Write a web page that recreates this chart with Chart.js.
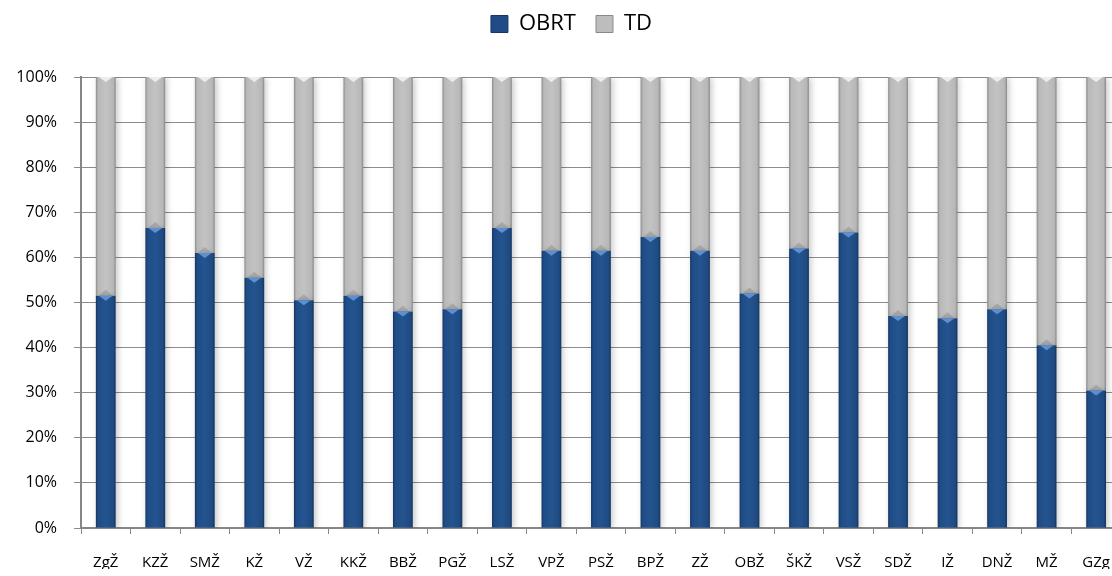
<!DOCTYPE html>
<html>
<head>
<meta charset="utf-8">
<title>OBRT / TD</title>
<script src="https://cdn.jsdelivr.net/npm/chart.js@4"></script>
<style>
  html, body { margin: 0; padding: 0; background: #fff; overflow: hidden; }
  #wrap { width: 1130px; height: 576px; }
</style>
</head>
<body>
<div id="wrap"><canvas id="chart" width="1130" height="576"></canvas></div>
<script>
// podatki, odčitani s slike (delež v %)
const categories = ['ZgŽ', 'KZŽ', 'SMŽ', 'KŽ', 'VŽ', 'KKŽ', 'BBŽ', 'PGŽ', 'LSŽ', 'VPŽ', 'PSŽ',
                    'BPŽ', 'ZŽ', 'OBŽ', 'ŠKŽ', 'VSŽ', 'SDŽ', 'IŽ', 'DNŽ', 'MŽ', 'GZg'];
const obrt = [51.5, 66.5, 61, 55.5, 50.5, 51.5, 48, 48.5, 66.5, 61.5, 61.5,
              64.5, 61.5, 52, 62, 65.5, 47, 46.5, 48.5, 40.5, 30.5];
const td   = [48.5, 33.5, 39, 44.5, 49.5, 48.5, 52, 51.5, 33.5, 38.5, 38.5,
              35.5, 38.5, 48, 38, 34.5, 53, 53.5, 51.5, 59.5, 69.5];
const seriesNames = ['OBRT', 'TD'];
const yTickStep = 10;

const FONT = '"Open Sans", "Noto Sans", sans-serif';

// vodoravni preliv čez posamezen stolpec (rob temnejši, sredina svetlejša)
function barGradient(ctx, stops) {
  const chart = ctx.chart;
  if (!chart.chartArea || ctx.type !== 'data') return stops[2];
  const meta = chart.getDatasetMeta(ctx.datasetIndex);
  const el = meta.data[ctx.dataIndex];
  const cx = chart.scales.x.getPixelForValue(ctx.dataIndex);
  const w = (el && el.width) ? el.width : 20;
  const g = chart.ctx.createLinearGradient(cx - w / 2, 0, cx + w / 2, 0);
  g.addColorStop(0, stops[0]);
  g.addColorStop(0.12, stops[1]);
  g.addColorStop(0.5, stops[2]);
  g.addColorStop(0.88, stops[3]);
  g.addColorStop(1, stops[4]);
  return g;
}

const blueStops = ['#143662', '#1f4c86', '#24548f', '#1f4a82', '#13335c'];
const greyStops = ['#8a8a8a', '#b9b9b9', '#c3c3c3', '#b7b7b7', '#878787'];

// legenda: višina tako, da se risalna površina začne na pravem mestu,
// in rahel zamik v desno
const legendHeight = {
  id: 'legendHeight',
  afterInit(chart) {
    const lg = chart.legend;
    if (!lg) return;
    const fit = lg.fit;
    lg.fit = function () {
      fit.call(this);
      this.height = 84;
    };
  },
  afterLayout(chart) {
    const lg = chart.legend;
    if (!lg) return;
    lg.left += 8;
    lg.right += 8;
  }
};

// senca pod stolpci + majhen trikotnik na vrhu (posnema Excelov "bevel")
const bevelPlugin = {
  id: 'bevel',
  beforeDatasetsDraw(chart) {
    const c = chart.ctx;
    c.save();
    c.shadowColor = 'rgba(0,0,0,0.22)';
    c.shadowBlur = 6;
    c.shadowOffsetX = 2;
    c.shadowOffsetY = 1;
  },
  afterDatasetsDraw(chart) {
    const c = chart.ctx;
    c.restore();
    c.save();
    chart.data.datasets.forEach((ds, di) => {
      const meta = chart.getDatasetMeta(di);
      meta.data.forEach(el => {
        const half = el.width / 2 - 3;
        const top = Math.min(el.y, el.base);
        c.fillStyle = di === 0 ? '#5d8fd3' : '#ededed';
        c.beginPath();
        c.moveTo(el.x - half, top);
        c.lineTo(el.x + half, top);
        c.lineTo(el.x, top + 5);
        c.closePath();
        c.fill();
        if (di === 1) {
          // temnejši klin tik nad modrim delom
          const bot = Math.max(el.y, el.base);
          c.fillStyle = 'rgba(120,120,120,0.35)';
          c.beginPath();
          c.moveTo(el.x - half, bot);
          c.lineTo(el.x + half, bot);
          c.lineTo(el.x, bot - 6);
          c.closePath();
          c.fill();
        }
      });
    });
    c.restore();
  }
};

const ctx = document.getElementById('chart').getContext('2d');
new Chart(ctx, {
  type: 'bar',
  data: {
    labels: categories,
    datasets: [
      {
        label: seriesNames[0],
        data: obrt,
        backgroundColor: c => barGradient(c, blueStops),
        barPercentage: 0.4,
        categoryPercentage: 1.0
      },
      {
        label: seriesNames[1],
        data: td,
        backgroundColor: c => barGradient(c, greyStops),
        barPercentage: 0.4,
        categoryPercentage: 1.0
      }
    ]
  },
  options: {
    responsive: false,
    animation: false,
    devicePixelRatio: 1,
    layout: { padding: { top: -7, right: 3, bottom: 7, left: 0 } },
    plugins: {
      tooltip: { enabled: false },
      legend: {
        position: 'top',
        labels: {
          boxWidth: 17,
          boxHeight: 17,
          padding: 20,
          color: '#000',
          font: { family: FONT, size: 22 },
          generateLabels: () => [
            { text: seriesNames[0], fillStyle: '#1f4c86', strokeStyle: '#143662', lineWidth: 1, datasetIndex: 0 },
            { text: seriesNames[1], fillStyle: '#bdbdbd', strokeStyle: '#8a8a8a', lineWidth: 1, datasetIndex: 1 }
          ]
        }
      }
    },
    scales: {
      x: {
        stacked: true,
        afterFit: s => { s.height = 41; },
        grid: {
          offset: true,
          drawOnChartArea: false,
          drawTicks: true,
          tickLength: 6,
          color: '#868686'
        },
        border: { color: '#868686', width: 2 },
        ticks: {
          color: '#000',
          padding: 20,
          maxRotation: 0,
          autoSkip: false,
          font: { family: FONT, size: 15 }
        }
      },
      y: {
        stacked: true,
        min: 0,
        max: 100,
        afterFit: s => { s.width = 81; },
        grid: { color: '#8c8c8c', tickLength: 7 },
        border: { color: '#868686', width: 2 },
        ticks: {
          stepSize: yTickStep,
          color: '#000',
          padding: 17,
          font: { family: FONT, size: 16 },
          callback: v => v + '%'
        }
      }
    }
  },
  plugins: [legendHeight, bevelPlugin]
});
</script>
</body>
</html>
